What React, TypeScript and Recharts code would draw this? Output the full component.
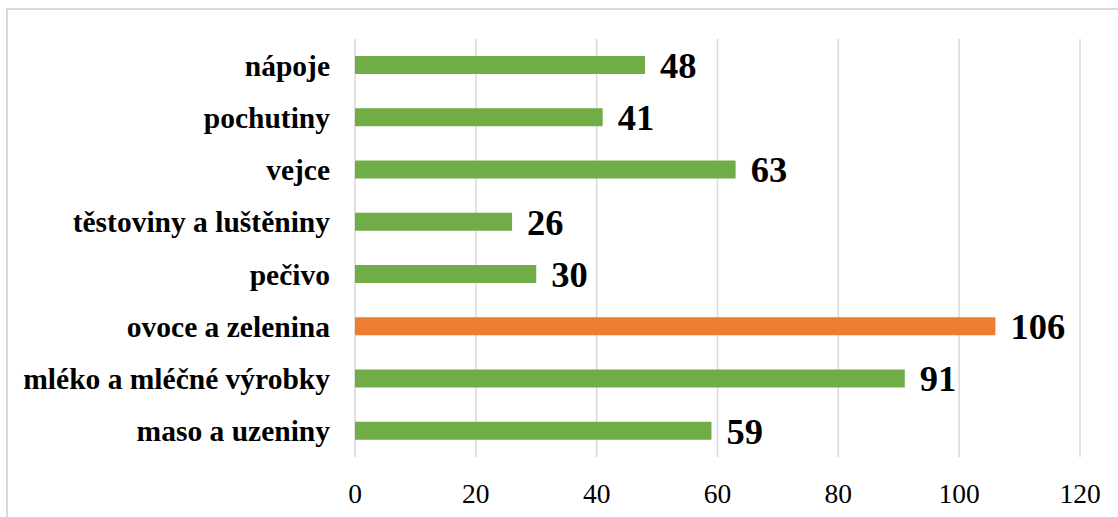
import React from "react";
import {
  BarChart,
  Bar,
  XAxis,
  YAxis,
  CartesianGrid,
  Cell,
  LabelList,
} from "recharts";

const categories = [
  "nápoje",
  "pochutiny",
  "vejce",
  "těstoviny a luštěniny",
  "pečivo",
  "ovoce a zelenina",
  "mléko a mléčné výrobky",
  "maso a uzeniny",
];
const counts = [48, 41, 63, 26, 30, 106, 91, 59];
const xTicks = [0, 20, 40, 60, 80, 100, 120];
const highlighted = "ovoce a zelenina";

const data = categories.map((name, i) => ({ name, value: counts[i] }));

const FONT = "Liberation Serif";
const GREEN = "#70AD47";
const ORANGE = "#ED7D31";

const App: React.FC = () => {
  return (
    <div
      style={{
        position: "absolute",
        left: 0,
        top: 0,
        width: 1118,
        height: 517,
        overflow: "hidden",
        background: "#fff",
        fontFamily: FONT,
      }}
    >
      {/* outer frame of the chart */}
      <div
        style={{
          position: "absolute",
          left: 6,
          top: 8,
          width: 1130,
          height: 530,
          border: "2px solid #d9d9d9",
          boxSizing: "border-box",
        }}
      />
      <div style={{ position: "absolute", left: 0, top: 0 }}>
        <BarChart
          width={1118}
          height={517}
          data={data}
          layout="vertical"
          margin={{ top: 39, right: 38, left: 0, bottom: 0 }}
          style={{ fontFamily: FONT }}
        >
          <CartesianGrid horizontal={false} stroke="#d9d9d9" strokeWidth={1.5} />
          <XAxis
            type="number"
            domain={[0, 120]}
            ticks={xTicks}
            axisLine={false}
            tickLine={false}
            height={60}
            tickMargin={20}
            tick={{ fill: "#000", fontSize: 27.5, fontFamily: FONT }}
          />
          <YAxis
            type="category"
            dataKey="name"
            width={355}
            axisLine={false}
            tickLine={false}
            tickMargin={19}
            interval={0}
            tick={{
              fill: "#000",
              fontSize: 29.5,
              fontWeight: "bold",
              fontFamily: FONT,
            }}
          />
          <Bar dataKey="value" barSize={18} isAnimationActive={false}>
            {data.map((d) => (
              <Cell key={d.name} fill={d.name === highlighted ? ORANGE : GREEN} />
            ))}
            <LabelList
              dataKey="value"
              position="right"
              offset={15}
              fill="#000"
              fontFamily={FONT}
              fontSize={36.5}
              fontWeight="bold"
            />
          </Bar>
        </BarChart>
      </div>
    </div>
  );
};

export default App;
